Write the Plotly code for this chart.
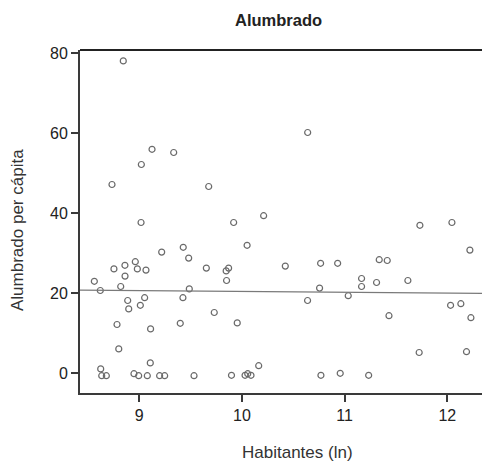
import plotly.graph_objects as go

# Municipalities: population (log) vs. street-lighting spending per capita
habitantes_ln = [
    8.844, 9.124, 9.335, 9.020, 8.734, 9.676, 10.640, 10.211, 9.017, 9.919,
    10.050, 9.218, 9.428, 9.481, 9.653, 8.562, 8.753, 8.860, 8.961, 8.981,
    9.065, 8.861, 8.819, 8.620, 9.487, 8.887, 9.052, 9.425, 8.897, 9.010,
    9.730, 8.783, 9.110, 9.399, 8.800, 9.107, 8.624, 8.634, 8.679, 8.948,
    8.994, 9.078, 9.198, 9.247, 9.533, 9.846, 9.870, 9.850, 10.422, 10.766,
    10.932, 10.756, 10.639, 11.035, 9.954, 10.163, 9.898, 10.030, 10.056, 10.088,
    10.769, 10.957, 11.733, 12.045, 12.220, 11.337, 11.415, 11.165, 11.165, 11.311,
    11.616, 12.032, 12.132, 12.230, 11.432, 11.726, 12.187, 11.234,
]
alumbrado_pc = [
    78.1, 56.0, 55.2, 52.2, 47.2, 46.7, 60.2, 39.4, 37.7, 37.7,
    32.0, 30.3, 31.5, 28.8, 26.3, 23.0, 26.1, 27.0, 27.9, 26.1,
    25.8, 24.3, 21.7, 20.7, 21.1, 18.2, 18.9, 18.9, 16.1, 17.0,
    15.2, 12.2, 11.1, 12.5, 6.1, 2.6, 1.1, -0.6, -0.6, -0.1,
    -0.6, -0.6, -0.6, -0.6, -0.6, 25.6, 26.3, 23.2, 26.8, 27.5,
    27.5, 21.3, 18.2, 19.4, 12.6, 1.9, -0.5, -0.5, -0.1, -0.5,
    -0.5, 0.0, 37.0, 37.7, 30.8, 28.4, 28.2, 23.7, 21.7, 22.7,
    23.2, 17.0, 17.4, 13.9, 14.4, 5.2, 5.4, -0.5,
]

# Linear fit coefficients
fit_intercept = 22.52
fit_slope = -0.204

x_range = [8.4224, 12.338]
y_range = [-4.92, 80.83]
x_ticks = [9, 10, 11, 12]
y_ticks = [0, 20, 40, 60, 80]

fit_x = x_range
fit_y = [fit_intercept + fit_slope * v for v in fit_x]

FONT = "Liberation Sans, Arial, Helvetica, sans-serif"
AXIS_COLOR = "#3a3a3a"
PLOT_W = 402  # plot-area width in px (80 px left margin)

fig = go.Figure()
fig.add_trace(go.Scatter(
    x=habitantes_ln, y=alumbrado_pc, mode="markers",
    marker=dict(symbol="circle-open", size=6, color="#6a6a6a",
                line=dict(width=1.2, color="#6a6a6a")),
    showlegend=False, hoverinfo="x+y",
))
fig.add_trace(go.Scatter(
    x=fit_x, y=fit_y, mode="lines",
    line=dict(color="#7a7a7a", width=1.2),
    showlegend=False, hoverinfo="skip",
))

fig.update_layout(
    width=80 + PLOT_W, height=461,
    margin=dict(l=80, r=0, t=50, b=68, autoexpand=False),
    paper_bgcolor="white", plot_bgcolor="white",
    font=dict(family=FONT, size=16, color="#222222"),
    xaxis=dict(
        range=x_range, tickvals=x_ticks, ticks="outside", ticklen=7,
        tickwidth=1.5, tickcolor=AXIS_COLOR, showline=True, linewidth=2,
        linecolor=AXIS_COLOR, mirror=False, showgrid=False, zeroline=False,
        tickfont=dict(size=16),
    ),
    yaxis=dict(
        range=y_range, tickvals=y_ticks, ticks="outside", ticklen=7,
        tickwidth=1.5, tickcolor=AXIS_COLOR, showline=True, linewidth=2,
        linecolor=AXIS_COLOR, showgrid=False, zeroline=False,
        tickfont=dict(size=16),
    ),
    shapes=[
        # top frame line
        dict(type="line", xref="paper", yref="paper", x0=0, x1=1, y0=1, y1=1,
             line=dict(color="#222222", width=2)),
    ],
    annotations=[
        dict(text="<b>Alumbrado</b>", xref="paper", yref="paper",
             x=(278 - 80) / PLOT_W, y=1 + (50 - 20) / 343,
             xanchor="center", yanchor="middle", showarrow=False,
             font=dict(size=16.5, family=FONT, color="#222222")),
        dict(text="Habitantes (ln)", xref="paper", yref="paper",
             x=(297 - 80) / PLOT_W, y=-(452 - 393) / 343,
             xanchor="center", yanchor="middle", showarrow=False,
             font=dict(size=17, family=FONT, color="#333333")),
        dict(text="Alumbrado per cápita", xref="paper", yref="paper",
             x=-(80 - 18) / PLOT_W, y=(393 - 230) / 343, textangle=-90,
             xanchor="center", yanchor="middle", showarrow=False,
             font=dict(size=17, family=FONT, color="#333333")),
    ],
)

fig.write_html("out.html", config={"displayModeBar": False})
